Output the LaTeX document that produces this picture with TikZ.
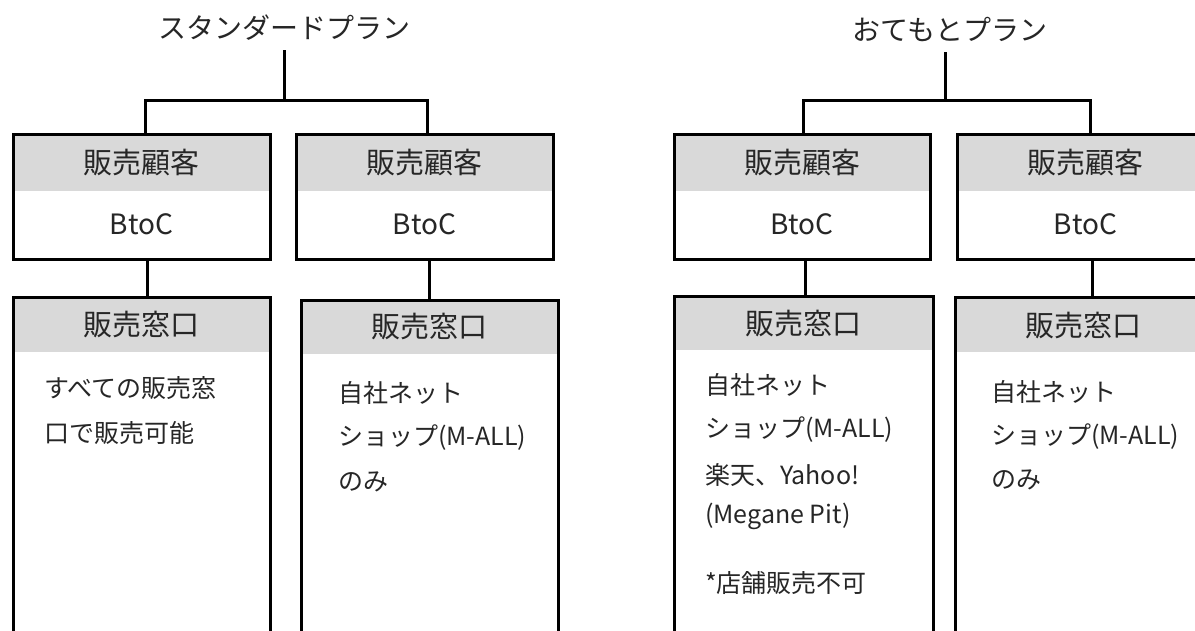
\documentclass[tikz,border=0pt]{standalone}
\usepackage{fontspec}
\setmainfont{Noto Sans CJK JP}
\definecolor{hdrgray}{HTML}{D9D9D9}
\definecolor{txt}{HTML}{262626}
\begin{document}
\begin{tikzpicture}[x=1pt,y=-1pt,
  box/.style={draw=black, line width=3pt, rectangle, outer sep=0pt, inner sep=0pt},
  hdr/.style={fill=hdrgray},
  conn/.style={line width=3pt, draw=black, line join=miter},
  title/.style={font=\fontsize{28}{30}\selectfont, text=txt, minimum height=44pt, inner sep=0pt},
  head/.style={font=\fontsize{29}{32}\selectfont, text=txt, inner sep=0pt},
  val/.style={font=\fontsize{28}{30}\selectfont, text=txt, inner sep=0pt},
  body/.style={font=\fontsize{25}{28}\selectfont, text=txt, anchor=west, inner sep=0pt}]
\useasboundingbox (0,0) rectangle (1195,630);
\clip (0,0) rectangle (1195,630);

% titles
\node[title] (t1) at (284,28) {スタンダードプラン};
\node[title] (t2) at (950,30) {おてもとプラン};

% top boxes (customer)
\node[box, minimum width=257pt, minimum height=125pt] (c1) at (141.5,196.5) {};
\node[box, minimum width=257pt, minimum height=125pt] (c2) at (424.5,196.5) {};
\node[box, minimum width=256pt, minimum height=125pt] (c3) at (802,196.5) {};
\node[box, minimum width=257pt, minimum height=125pt] (c4) at (1085.5,196.5) {};

% lower boxes (sales channel)
\node[box, minimum width=257pt, minimum height=403pt] (l1) at (141.5,498.5) {};
\node[box, minimum width=257pt, minimum height=400pt] (l2) at (429.5,500) {};
\node[box, minimum width=259pt, minimum height=404pt] (l3) at (803.5,498) {};
\node[box, minimum width=257pt, minimum height=403pt] (l4) at (1083.5,498.5) {};

% header fills
\fill[hdr] ([shift={(1.5,1.5)}]c1.north west) rectangle ([xshift=-1.5]c1.east |- 0,191);
\fill[hdr] ([shift={(1.5,1.5)}]c2.north west) rectangle ([xshift=-1.5]c2.east |- 0,191);
\fill[hdr] ([shift={(1.5,1.5)}]c3.north west) rectangle ([xshift=-1.5]c3.east |- 0,191);
\fill[hdr] ([shift={(1.5,1.5)}]c4.north west) rectangle ([xshift=-1.5]c4.east |- 0,191);
\fill[hdr] ([shift={(1.5,1.5)}]l1.north west) rectangle ([xshift=-1.5]l1.east |- 0,352);
\fill[hdr] ([shift={(1.5,1.5)}]l2.north west) rectangle ([xshift=-1.5]l2.east |- 0,354);
\fill[hdr] ([shift={(1.5,1.5)}]l3.north west) rectangle ([xshift=-1.5]l3.east |- 0,350);
\fill[hdr] ([shift={(1.5,1.5)}]l4.north west) rectangle ([xshift=-1.5]l4.east |- 0,352);

% header texts
\node[head] (h1) at (c1.north |- 0,163) {販売顧客};
\node[head] (h2) at (c2.north |- 0,163) {販売顧客};
\node[head] (h3) at (c3.north |- 0,163) {販売顧客};
\node[head] (h4) at (c4.north |- 0,163) {販売顧客};
\node[val] (v1) at (c1.north |- 0,224) {BtoC};
\node[val] (v2) at (c2.north |- 0,224) {BtoC};
\node[val] (v3) at (c3.north |- 0,224) {BtoC};
\node[val] (v4) at (c4.north |- 0,224) {BtoC};

\node[head] (g1) at (l1.north |- 0,325) {販売窓口};
\node[head] (g2) at (l2.north |- 0,327) {販売窓口};
\node[head] (g3) at (l3.north |- 0,324) {販売窓口};
\node[head] (g4) at (l4.north |- 0,326) {販売窓口};

% body texts
\node[body] (b1a) at (44,388) {すべての販売窓};
\node[body] (b1b) at (44,433) {口で販売可能};

\node[body] (b2a) at (338,393) {自社ネット};
\node[body] (b2b) at (338,438) {ショップ(M-ALL)};
\node[body] (b2c) at (338,482) {のみ};

\node[body] (b3a) at (705,385) {自社ネット};
\node[body] (b3b) at (705,430) {ショップ(M-ALL)};
\node[body] (b3c) at (705,475) {楽天、Yahoo!};
\node[body] (b3d) at (705,516) {(Megane Pit)};
\node[body] (b3e) at (705,583) {*店舗販売不可};

\node[body] (b4a) at (991,392) {自社ネット};
\node[body] (b4b) at (991,437) {ショップ(M-ALL)};
\node[body] (b4c) at (991,480) {のみ};

% box borders on top of fills
\foreach \n in {c1,c2,c3,c4,l1,l2,l3,l4}{
  \draw[line width=3pt] (\n.north west) rectangle (\n.south east);
}

% connectors
\coordinate (j1) at (284,100);
\coordinate (j2) at (945,100);
\draw[conn] (t1.south) -- (j1);
\draw[conn] ([xshift=4]c1.north) |- (j1) -| ([xshift=3]c2.north);
\draw[conn] (t2.south -| j2) -- (j2);
\draw[conn] ([xshift=1]c3.north) |- (j2) -| ([xshift=5]c4.north);

\draw[conn] ([xshift=5.5]c1.south) -- ([xshift=5.5]c1.south |- l1.north);
\draw[conn] ([xshift=4.5]c2.south) -- ([xshift=4.5]c2.south |- l2.north);
\draw[conn] ([xshift=3]c3.south) -- ([xshift=3]c3.south |- l3.north);
\draw[conn] ([xshift=6.5]c4.south) -- ([xshift=6.5]c4.south |- l4.north);
\end{tikzpicture}
\end{document}
